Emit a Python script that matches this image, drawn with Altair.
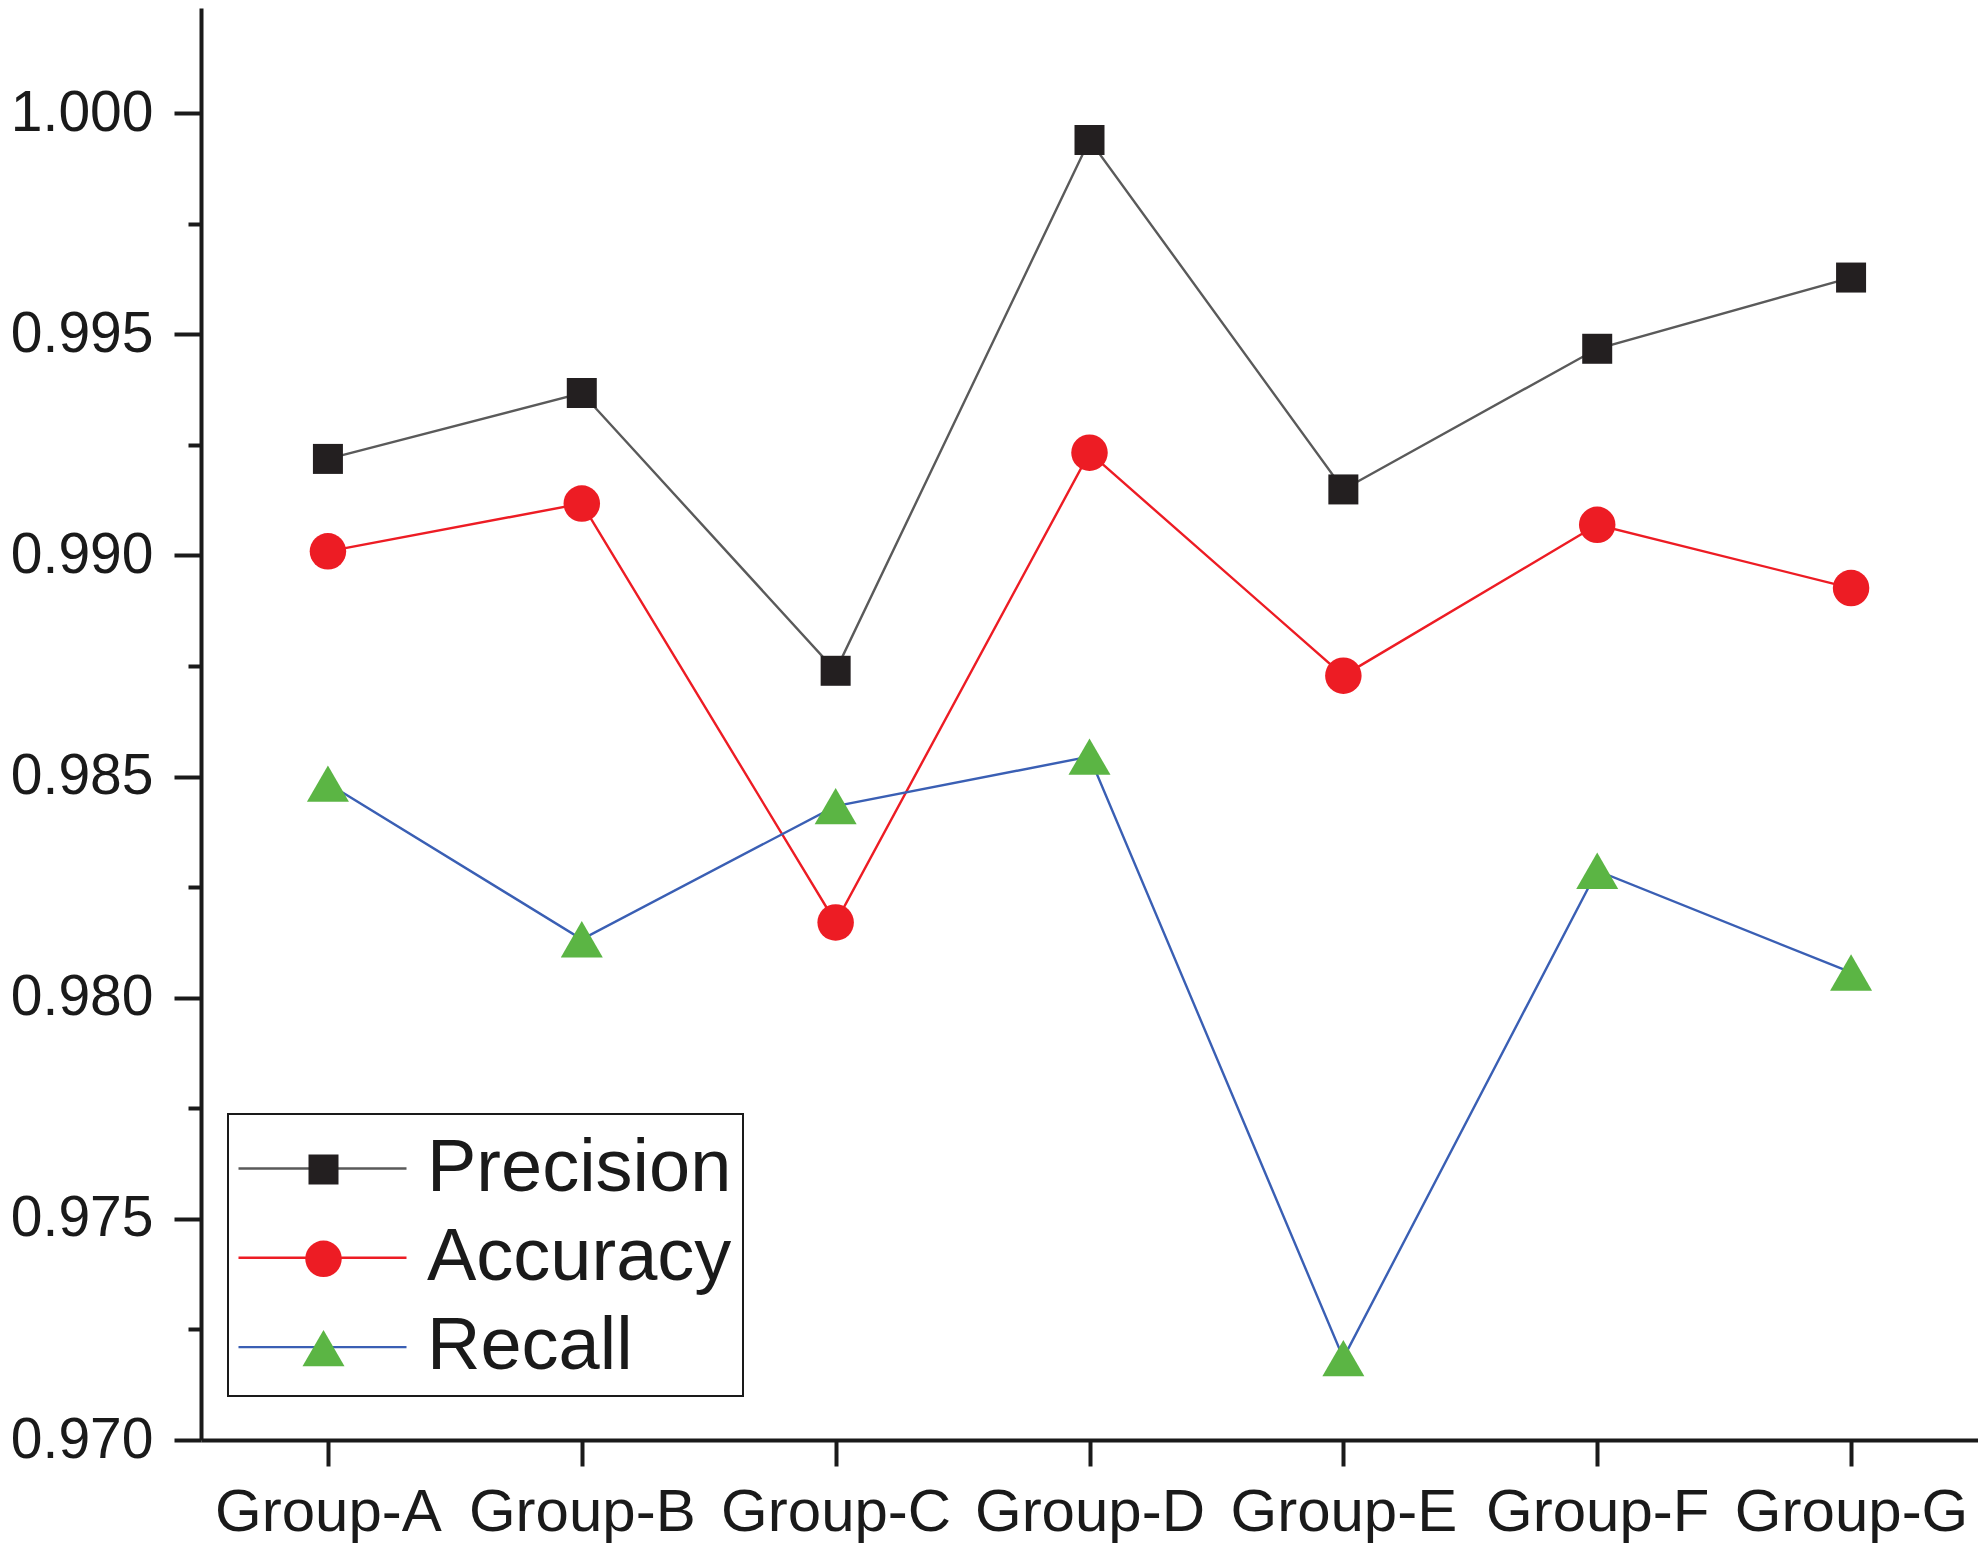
import altair as alt
import pandas as pd

# ---- data ----
groups = ["Group-A", "Group-B", "Group-C", "Group-D", "Group-E", "Group-F", "Group-G"]
series_names = ["Precision", "Accuracy", "Recall"]
precision = [0.99218, 0.99367, 0.98739, 0.99939, 0.99149, 0.99467, 0.99628]
accuracy = [0.99009, 0.99117, 0.98170, 0.99232, 0.98728, 0.99069, 0.98926]
recall = [0.98484, 0.98132, 0.98433, 0.98545, 0.97185, 0.98287, 0.98057]
y_tick_values = [0.970, 0.9725, 0.975, 0.9775, 0.980, 0.9825, 0.985,
                 0.9875, 0.990, 0.9925, 0.995, 0.9975, 1.000]

# ---- styles ----
line_colors = ["#5a5a5a", "#ed1c24", "#3a5fb4"]
marker_colors = ["#231f20", "#ed1c24", "#5bb544"]
marker_shapes = ["square", "circle", "triangle-up"]
marker_sizes = [900, 1764]
FONT = "Liberation Sans, Arial, Helvetica, sans-serif"
INK = "#1a1a1a"

rows = []
for name, vals in zip(series_names, [precision, accuracy, recall]):
    for g, v in zip(groups, vals):
        rows.append({"group": g, "series": name, "metric": name, "value": v})
df = pd.DataFrame(rows)

major_test = "round(datum.value*400) % 2 == 0"

x_enc = alt.X(
    "group:N", sort=groups, title="",
    scale=alt.Scale(type="point", padding=0.5),
    axis=alt.Axis(labelAngle=0, labelFont=FONT, labelFontSize=60, labelColor=INK,
                  labelLimit=500, labelPadding=17, tickSize=26, tickWidth=4,
                  tickColor=INK, domainWidth=4, domainColor=INK, grid=False),
)
y_enc = alt.Y(
    "value:Q", title="",
    scale=alt.Scale(domain=[0.970, 1.002374], nice=False, zero=False),
    axis=alt.Axis(values=y_tick_values,
                  labelExpr=f"{major_test} ? format(datum.value, '.3f') : ''",
                  tickSize={"condition": {"test": major_test, "value": 27}, "value": 13},
                  labelFont=FONT, labelFontSize=57, labelColor=INK, labelPadding=21,
                  tickWidth=4, tickColor=INK, domainWidth=4, domainColor=INK, grid=False),
)

legend_lines = alt.Legend(
    title=None, orient="none", legendX=27, legendY=1106, direction="vertical",
    symbolType="M -2 0 L 2 0", symbolSize=7056, symbolStrokeWidth=2.4,
    symbolOffset=40, labelOffset=61, labelFont=FONT, labelFontSize=74,
    labelColor=INK, labelLimit=700, rowPadding=8.3, padding=11,
    strokeColor=INK, zindex=1,
)
legend_marks = alt.Legend(
    title=None, orient="none", legendX=27, legendY=1113.5, direction="vertical",
    symbolSize=1296, symbolStrokeWidth=0, symbolOpacity=1,
    symbolOffset=47.5, labelOffset=61, labelFont=FONT, labelFontSize=74,
    labelExpr="''", labelLimit=700, rowPadding=15.3, padding=11, zindex=2,
)

lines = alt.Chart(df).mark_line(strokeWidth=2.4).encode(
    x=x_enc, y=y_enc,
    stroke=alt.Stroke("series:N", sort=series_names,
                      scale=alt.Scale(range=line_colors), legend=legend_lines),
)

points = alt.Chart(df).mark_point(filled=True, opacity=1, strokeWidth=0).encode(
    x=x_enc, y=y_enc,
    color=alt.Color("metric:N",
                    scale=alt.Scale(domain=series_names, range=marker_colors),
                    legend=legend_marks),
    shape=alt.Shape("metric:N",
                    scale=alt.Scale(domain=series_names, range=marker_shapes),
                    legend=legend_marks),
    size=alt.Size("metric:N",
                  scale=alt.Scale(domain=series_names, range=marker_sizes),
                  legend=None),
)

chart = alt.layer(lines, points).properties(
    width=1777, height=1432,
    padding={"left": 193, "top": 0, "right": 0, "bottom": 104},
    autosize=alt.AutoSizeParams(type="none"),
    background="white",
).configure_view(strokeWidth=0).configure_legend(strokeWidth=2)

chart.save("out.html", embed_options={"renderer": "svg", "actions": False})
